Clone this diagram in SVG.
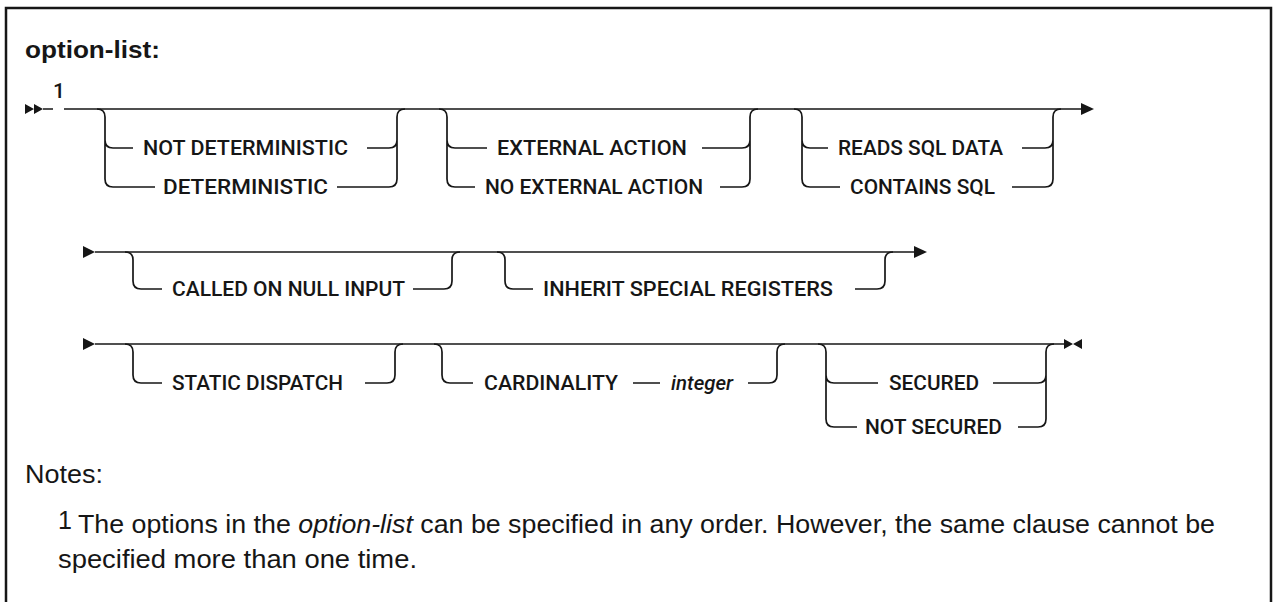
<svg xmlns="http://www.w3.org/2000/svg" width="1273" height="602" viewBox="0 0 1273 602">
<style>
.lbl{font-family:Roboto,"Liberation Sans",sans-serif;font-size:21px;font-weight:500;fill:#161616}
.it{font-style:italic}
.ln{fill:none;stroke:#161616;stroke-width:1.7}
.ah{fill:#161616}
.note{font-family:"Liberation Sans",Arial,sans-serif;font-size:25px;fill:#161616}
.title{font-family:"Liberation Sans",Arial,sans-serif;font-size:24px;font-weight:bold;fill:#161616}
</style>
<rect width="1273" height="602" fill="#ffffff"/>
<path d="M6,602 V8 H1271 V602" fill="none" stroke="#161616" stroke-width="2.5"/>
<text id="title" class="title" x="25" y="58" textLength="135" lengthAdjust="spacingAndGlyphs">option-list:</text>

<g id="connectors">
  <!-- row 1 -->
  <path class="ah" d="M25,104 L34,109 L25,114 Z M34,104 L43,109 L34,114 Z"/>
  <path class="ln" d="M43,109 H53 M64,109 H1083"/>
  <path class="ah" d="M1081,103 L1094,109 L1081,115 Z"/>
  <!-- row 2 -->
  <path class="ah" d="M83,246 L95,252 L83,258 Z"/>
  <path class="ln" d="M95,252 H915"/>
  <path class="ah" d="M914,246 L927,252 L914,258 Z"/>
  <!-- row 3 -->
  <path class="ah" d="M83,338 L95,344 L83,350 Z"/>
  <path class="ln" d="M95,344 H1066"/>
  <path class="ah" d="M1064,339 L1073,344 L1064,349 Z M1082,339 L1073,344 L1082,349 Z"/>
</g>

<g id="n1">
  <path class="ln" d="M97,109 Q105,109 105,117 V179 Q105,187 113,187 H155 M105,140 Q105,148 113,148 H133 M367,148 H389 Q397,148 397,140 M337,187 H389 Q397,187 397,179 V117 Q397,109 405,109"/>
  <text class="lbl" x="143" y="155" textLength="205" lengthAdjust="spacingAndGlyphs">NOT DETERMINISTIC</text>
  <text class="lbl" x="163" y="194" textLength="165" lengthAdjust="spacingAndGlyphs">DETERMINISTIC</text>
</g>
<g id="n2">
  <path class="ln" d="M439,109 Q447,109 447,117 V179 Q447,187 455,187 H475 M447,140 Q447,148 455,148 H487 M702,148 H742 Q750,148 750,140 M720,187 H742 Q750,187 750,179 V117 Q750,109 758,109"/>
  <text class="lbl" x="497" y="155" textLength="190" lengthAdjust="spacingAndGlyphs">EXTERNAL ACTION</text>
  <text class="lbl" x="485" y="194" textLength="218" lengthAdjust="spacingAndGlyphs">NO EXTERNAL ACTION</text>
</g>
<g id="n3">
  <path class="ln" d="M794,109 Q802,109 802,117 V179 Q802,187 810,187 H840 M802,140 Q802,148 810,148 H828 M1022,148 H1045 Q1053,148 1053,140 M1012,187 H1045 Q1053,187 1053,179 V117 Q1053,109 1061,109"/>
  <text class="lbl" x="838" y="155" textLength="165" lengthAdjust="spacingAndGlyphs">READS SQL DATA</text>
  <text class="lbl" x="850" y="194" textLength="145" lengthAdjust="spacingAndGlyphs">CONTAINS SQL</text>
</g>
<g id="n4">
  <path class="ln" d="M125,252 Q133,252 133,260 V281 Q133,289 141,289 H162 M413,289 H444 Q452,289 452,281 V260 Q452,252 460,252"/>
  <text class="lbl" x="172" y="296" textLength="233" lengthAdjust="spacingAndGlyphs">CALLED ON NULL INPUT</text>
</g>
<g id="n5">
  <path class="ln" d="M497,252 Q505,252 505,260 V281 Q505,289 513,289 H533 M855,289 H877 Q885,289 885,281 V260 Q885,252 893,252"/>
  <text class="lbl" x="543" y="296" textLength="290" lengthAdjust="spacingAndGlyphs">INHERIT SPECIAL REGISTERS</text>
</g>
<g id="n6">
  <path class="ln" d="M125,344 Q133,344 133,352 V375 Q133,383 141,383 H162 M365,383 H387 Q395,383 395,375 V352 Q395,344 403,344"/>
  <text class="lbl" x="172" y="390" textLength="171" lengthAdjust="spacingAndGlyphs">STATIC DISPATCH</text>
</g>
<g id="n7">
  <path class="ln" d="M434,344 Q442,344 442,352 V375 Q442,383 450,383 H473 M633,383 H660 M748,383 H769 Q777,383 777,375 V352 Q777,344 785,344"/>
  <text class="lbl" x="484" y="390" textLength="134" lengthAdjust="spacingAndGlyphs">CARDINALITY</text>
  <text class="lbl it" x="671" y="390" textLength="62" lengthAdjust="spacingAndGlyphs">integer</text>
</g>
<g id="n8">
  <path class="ln" d="M818,344 Q826,344 826,352 V419 Q826,427 834,427 H857 M826,375 Q826,383 834,383 H878 M993,383 H1038 Q1046,383 1046,375 M1018,427 H1038 Q1046,427 1046,419 V352 Q1046,344 1054,344"/>
  <text class="lbl" x="889" y="390" textLength="90" lengthAdjust="spacingAndGlyphs">SECURED</text>
  <text class="lbl" x="865" y="434" textLength="137" lengthAdjust="spacingAndGlyphs">NOT SECURED</text>
</g>
<text class="lbl" x="53" y="98" font-weight="bold" font-size="17">1</text>

<g id="notes">
  <text class="note" x="25" y="483" textLength="78" lengthAdjust="spacingAndGlyphs">Notes:</text>
  <text class="note" x="58" y="529" font-size="16">1</text>
  <text class="note" x="78" y="533" textLength="1137" lengthAdjust="spacingAndGlyphs">The options in the <tspan class="it">option-list</tspan> can be specified in any order. However, the same clause cannot be</text>
  <text class="note" x="58" y="568" textLength="359" lengthAdjust="spacingAndGlyphs">specified more than one time.</text>
</g>
</svg>
